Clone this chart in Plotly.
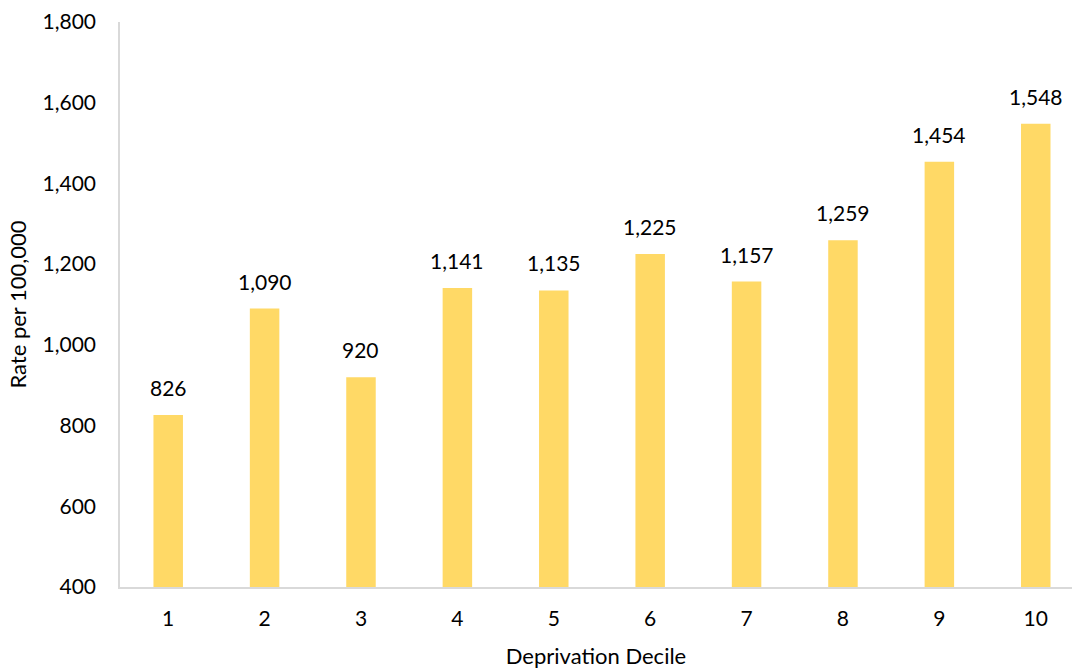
import plotly.graph_objects as go

deciles = [1, 2, 3, 4, 5, 6, 7, 8, 9, 10]
rates = [826, 1090, 920, 1141, 1135, 1225, 1157, 1259, 1454, 1548]
tick_labels = [str(d) for d in deciles]

fig = go.Figure()
fig.add_trace(go.Bar(
    x=deciles, y=rates, width=0.306,
    marker=dict(color="#FFD966", line=dict(width=0)),
    hoverinfo="x+y",
))

for d, v in zip(deciles, rates):
    fig.add_annotation(
        x=d, y=v, text=f"{v:,}", showarrow=False,
        yanchor="bottom", yshift=13,
        font=dict(size=21, color="#000000"),
    )

fig.update_layout(
    width=1072, height=671,
    margin=dict(l=120, r=0, t=22, b=84),
    paper_bgcolor="white", plot_bgcolor="white",
    font=dict(family="Lato, Open Sans, sans-serif", size=21, color="#000000"),
    showlegend=False,
    xaxis=dict(
        range=[0.5, 10.376], tickvals=deciles, ticktext=tick_labels,
        showgrid=False, zeroline=False, showline=True, linecolor="#D9D9D9", linewidth=1.5,
        ticks="", ticklabelstandoff=12, automargin=False,
        title=dict(text="Deprivation Decile", font=dict(size=22), standoff=20),
    ),
    yaxis=dict(
        range=[400, 1800], tickvals=list(range(400, 1801, 200)),
        tickformat=",", showgrid=False, zeroline=False,
        showline=True, linecolor="#D9D9D9", linewidth=1.5,
        ticks="", ticklabelstandoff=18, automargin=True,
        title=dict(text="Rate per 100,000", font=dict(size=22), standoff=10),
    ),
)

fig.write_html(
    "out.html",
    config={"displayModeBar": False},
    post_script="document.body.style.margin='0';document.body.style.overflow='hidden';",
)
